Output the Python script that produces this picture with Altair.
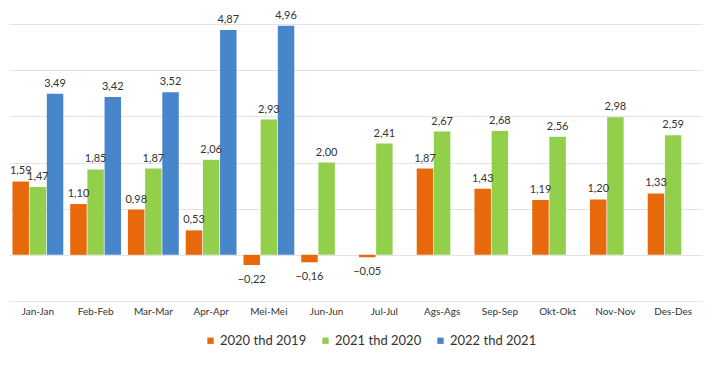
import altair as alt
import pandas as pd

months = ["Jan-Jan", "Feb-Feb", "Mar-Mar", "Apr-Apr", "Mei-Mei", "Jun-Jun",
          "Jul-Jul", "Ags-Ags", "Sep-Sep", "Okt-Okt", "Nov-Nov", "Des-Des"]
series = ["2020 thd 2019", "2021 thd 2020", "2022 thd 2021"]
s2020 = [1.59, 1.10, 0.98, 0.53, -0.22, -0.16, -0.05, 1.87, 1.43, 1.19, 1.20, 1.33]
s2021 = [1.47, 1.85, 1.87, 2.06, 2.93, 2.00, 2.41, 2.67, 2.68, 2.56, 2.98, 2.59]
s2022 = [3.49, 3.42, 3.52, 4.87, 4.96]
colors = ["#E8690B", "#92D04C", "#4886CC"]

rows = []
for vals, name in zip([s2020, s2021, s2022], series):
    for m, v in zip(months, vals):
        rows.append({"bulan": m, "seri": name, "nilai": v})
df = pd.DataFrame(rows)

FONT = "Lato"

base = alt.Chart(df).encode(
    x=alt.X("bulan:N", sort=months,
            scale=alt.Scale(paddingInner=0.12, paddingOuter=0.06),
            axis=alt.Axis(title=None, labelAngle=0, ticks=False, domain=False,
                          labelFont=FONT, labelFontSize=10, labelColor="#333333",
                          labelPadding=5)),
    xOffset=alt.XOffset("seri:N", sort=series,
                        scale=alt.Scale(domain=series, paddingInner=0.04)),
)

bars = base.mark_bar().encode(
    y=alt.Y("nilai:Q", scale=alt.Scale(domain=[-1, 5], nice=False),
            axis=alt.Axis(title=None, labels=False, ticks=False, domain=False,
                          values=[-1, 0, 1, 2, 3, 4, 5],
                          gridColor="#E3E3E3", gridWidth=1.2)),
    color=alt.Color("seri:N", sort=series,
                    scale=alt.Scale(domain=series, range=colors),
                    legend=alt.Legend(title=None, orient="none", direction="horizontal",
                                      legendX=195, legendY=310,
                                      symbolType="square", symbolSize=40,
                                      symbolStrokeWidth=0,
                                      labelFont=FONT, labelFontSize=13,
                                      labelColor="#333333", columnPadding=12,
                                      labelOffset=3)),
)

lab = base.transform_calculate(
    txt="replace(format(datum.nilai, '.2f'), '.', ',')"
)

pos = lab.transform_filter("datum.nilai >= 0").mark_text(
    baseline="bottom", dy=-5, font=FONT, fontSize=11, color="#333333"
).encode(y="nilai:Q", text="txt:N")

neg = lab.transform_filter("datum.nilai < 0").mark_text(
    baseline="top", dy=9, font=FONT, fontSize=11, color="#333333"
).encode(y="nilai:Q", text="txt:N")

chart = alt.layer(bars, pos, neg).properties(
    width=693, height=277,
    autosize=alt.AutoSizeParams(type="none"),
    padding={"left": 1, "top": 16, "right": 5, "bottom": 61},
).configure_view(stroke=None)

chart.save("out.html", embed_options={"renderer": "svg", "actions": False})
